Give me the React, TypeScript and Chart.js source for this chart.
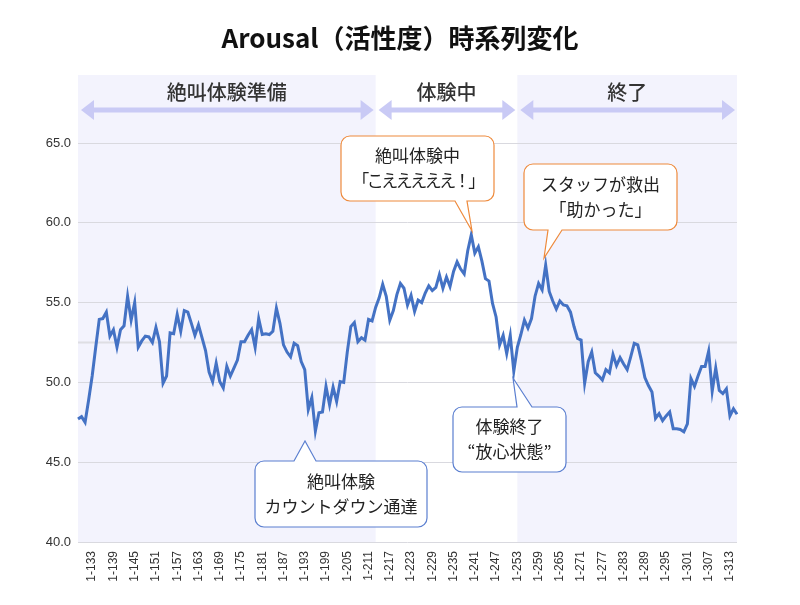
import React, { useEffect, useRef } from 'react';
import { Chart, registerables } from 'chart.js';

Chart.register(...registerables);

// ---- data ----
const firstTrial = 129;
const arousal = [
  47.7, 47.85, 47.5, 48.9, 50.4, 52.2, 53.95, 54.0, 54.4, 52.9,
  53.3, 52.2, 53.3, 53.55, 55.4, 53.9, 55.0, 52.2, 52.6, 52.9,
  52.85, 52.5, 53.45, 52.55, 49.95, 50.4, 53.1, 53.05, 54.25, 53.2,
  54.5, 54.4, 53.7, 52.95, 53.6, 52.8, 52.0, 50.65, 50.05, 51.2,
  50.05, 49.65, 51.0, 50.4, 50.9, 51.4, 52.55, 52.55, 52.95, 53.3,
  52.2, 54.0, 53.0, 53.05, 53.0, 53.2, 54.65, 53.7, 52.35, 51.9,
  51.6, 52.45, 52.3, 51.3, 50.8, 48.3, 49.05, 46.95, 48.1, 48.15,
  49.75, 48.6, 49.7, 48.8, 50.05, 50.0, 51.9, 53.5, 53.75, 52.55,
  52.8, 52.65, 53.95, 53.85, 54.7, 55.3, 56.15, 55.4, 53.9, 54.5,
  55.5, 56.2, 55.9, 54.85, 55.45, 54.45, 55.15, 55.0, 55.6, 56.05,
  55.75, 55.95, 56.75, 55.9, 56.6, 56.0, 56.95, 57.55, 57.1, 56.8,
  58.25, 59.25, 58.1, 58.5, 57.6, 56.5, 56.35, 54.95, 54.1, 52.35,
  52.95, 51.8, 52.95, 50.7, 52.2, 53.0, 53.9, 53.4, 54.0, 55.4,
  56.2, 55.8, 57.35, 55.7, 55.1, 54.6, 55.1, 54.85, 54.8, 54.4,
  53.5, 52.75, 52.65, 49.95, 51.3, 51.9, 50.6, 50.4, 50.15, 50.8,
  50.6, 51.75, 51.05, 51.55, 51.15, 50.8, 51.6, 52.45, 52.35, 51.4,
  50.3, 49.8, 49.4, 47.75, 48.05, 47.6, 47.9, 48.15, 47.1, 47.1,
  47.05, 46.9, 47.4, 50.25, 49.75, 50.4, 51.0, 51.0, 51.95, 49.45,
  50.9, 49.5, 49.3, 49.6, 47.9, 48.35, 48.0,
];
const categories = arousal.map((_, i) => `1-${firstTrial + i}`);

const firstShownTick = 133;
const tickEvery = 6;
const yMin = 40;
const yMax = 65;
const yStep = 5;
const meanLine = 52.5;

const title = 'Arousal（活性度）時系列変化';

const phaseLabels = ['絶叫体験準備', '体験中', '終了'];
const phaseStarts = ['1-129', '1-213', '1-253'];
const phaseEnds = ['1-213', '1-253', '1-315'];
const phaseShaded = [true, false, true];

const calloutTexts = [
  ['絶叫体験中', '「こえええええ！」'],
  ['スタッフが救出', '「助かった」'],
  ['体験終了', '“放心状態”'],
  ['絶叫体験', 'カウントダウン通達'],
];

// ---- layout / styles for callouts (pixels) ----
const calloutLayout = [
  { x: 341, y: 136, w: 153, h: 65, side: 'bottom', b1: 455, b2: 467, tipX: 472, tipY: 231, color: '#EE8A3C', spacing: [0, -2.5] },
  { x: 524, y: 164, w: 153, h: 66, side: 'bottom', b1: 548, b2: 562, tipX: 544, tipY: 258, color: '#EE8A3C', spacing: [0, 0] },
  { x: 453, y: 407, w: 113, h: 65, side: 'top', b1: 517, b2: 532, tipX: 513, tipY: 378, color: '#5B7FD0', spacing: [0, 0] },
  { x: 255, y: 461, w: 172, h: 66, side: 'top', b1: 294, b2: 316, tipX: 305, tipY: 441, color: '#5B7FD0', spacing: [0, 0] },
];

const CJK = '"Noto Sans CJK JP", "Noto Sans", sans-serif';
const LATIN = '"Liberation Sans", Arial, sans-serif';

function calloutPath(ctx: CanvasRenderingContext2D, c: any, r: number) {
  const { x, y, w, h, side, b1, b2, tipX, tipY } = c;
  ctx.beginPath();
  ctx.moveTo(x + r, y);
  if (side === 'top') {
    ctx.lineTo(b1, y);
    ctx.lineTo(tipX, tipY);
    ctx.lineTo(b2, y);
  }
  ctx.lineTo(x + w - r, y);
  ctx.arcTo(x + w, y, x + w, y + r, r);
  ctx.lineTo(x + w, y + h - r);
  ctx.arcTo(x + w, y + h, x + w - r, y + h, r);
  if (side === 'bottom') {
    ctx.lineTo(b2, y + h);
    ctx.lineTo(tipX, tipY);
    ctx.lineTo(b1, y + h);
  }
  ctx.lineTo(x + r, y + h);
  ctx.arcTo(x, y + h, x, y + h - r, r);
  ctx.lineTo(x, y + r);
  ctx.arcTo(x, y, x + r, y, r);
  ctx.closePath();
}

function drawDoubleArrow(ctx: CanvasRenderingContext2D, x1: number, x2: number, y: number) {
  const headLen = 13;
  const headHalf = 10;
  const shaft = 5;
  ctx.fillStyle = '#C9CAF5';
  ctx.fillRect(x1 + headLen - 1, y - shaft / 2, x2 - x1 - 2 * headLen + 2, shaft);
  ctx.beginPath();
  ctx.moveTo(x1, y);
  ctx.lineTo(x1 + headLen, y - headHalf);
  ctx.lineTo(x1 + headLen, y + headHalf);
  ctx.closePath();
  ctx.fill();
  ctx.beginPath();
  ctx.moveTo(x2, y);
  ctx.lineTo(x2 - headLen, y - headHalf);
  ctx.lineTo(x2 - headLen, y + headHalf);
  ctx.closePath();
  ctx.fill();
}

const decorPlugin = {
  id: 'decor',
  beforeDraw(chart: any) {
    const { ctx, chartArea, scales } = chart;
    const xs = scales.x;
    const bandTop = 75;
    ctx.save();
    for (let i = 0; i < phaseLabels.length; i++) {
      const l = xs.getPixelForValue(categories.indexOf(phaseStarts[i]));
      const r = xs.getPixelForValue(categories.indexOf(phaseEnds[i]));
      if (phaseShaded[i]) {
        ctx.fillStyle = '#F3F3FD';
        ctx.fillRect(l, bandTop, r - l, chartArea.bottom - bandTop);
      }
    }
    ctx.restore();
  },
  beforeDatasetsDraw(chart: any) {
    const { ctx, chartArea, scales } = chart;
    const y = scales.y.getPixelForValue(meanLine);
    ctx.save();
    ctx.strokeStyle = '#DEDEE3';
    ctx.lineWidth = 2;
    ctx.beginPath();
    ctx.moveTo(chartArea.left, y);
    ctx.lineTo(chartArea.right, y);
    ctx.stroke();
    ctx.restore();
  },
  afterDraw(chart: any) {
    const { ctx, scales } = chart;
    const xs = scales.x;
    ctx.save();
    // title
    ctx.fillStyle = '#111';
    ctx.font = `bold 26px ${CJK}`;
    ctx.textAlign = 'center';
    ctx.textBaseline = 'middle';
    ctx.fillText(title, 400, 38);

    // phase labels and arrows
    for (let i = 0; i < phaseLabels.length; i++) {
      const l = xs.getPixelForValue(categories.indexOf(phaseStarts[i]));
      const r = xs.getPixelForValue(categories.indexOf(phaseEnds[i]));
      ctx.fillStyle = '#333';
      ctx.font = `500 20px ${CJK}`;
      ctx.textAlign = 'center';
      ctx.textBaseline = 'middle';
      ctx.fillText(phaseLabels[i], (l + r) / 2, 92);
      drawDoubleArrow(ctx, l + 3, r - 2, 110);
    }

    // callouts
    for (let i = 0; i < calloutLayout.length; i++) {
      const c = calloutLayout[i];
      calloutPath(ctx, c, 9);
      ctx.fillStyle = '#FFFFFF';
      ctx.fill();
      ctx.strokeStyle = c.color;
      ctx.lineWidth = 1.2;
      ctx.stroke();
      ctx.fillStyle = '#222';
      ctx.font = `17px ${CJK}`;
      ctx.textAlign = 'center';
      ctx.textBaseline = 'middle';
      const cx = c.x + c.w / 2;
      const lines = calloutTexts[i];
      const lh = 25;
      const y0 = c.y + c.h / 2 - (lh * (lines.length - 1)) / 2;
      lines.forEach((t, k) => {
        (ctx as any).letterSpacing = `${c.spacing[k]}px`;
        ctx.fillText(t, cx, y0 + k * lh);
      });
      (ctx as any).letterSpacing = '0px';
    }
    ctx.restore();
  },
};

export default function App() {
  const ref = useRef<HTMLCanvasElement | null>(null);
  useEffect(() => {
    if (!ref.current) return;
    const chart = new Chart(ref.current, {
      type: 'line',
      data: {
        labels: categories,
        datasets: [
          {
            data: arousal,
            borderColor: '#4472C4',
            borderWidth: 3,
            pointRadius: 0,
            tension: 0,
            fill: false,
          },
        ],
      },
      options: {
        responsive: false,
        animation: false,
        layout: { padding: { left: 0, right: 63, top: 143, bottom: 0 } },
        plugins: {
          legend: { display: false },
          tooltip: { enabled: false },
          title: { display: false },
        },
        scales: {
          x: {
            grid: { display: false, drawTicks: false },
            border: { display: false },
            ticks: {
              autoSkip: false,
              minRotation: 90,
              maxRotation: 90,
              padding: 9,
              color: '#333',
              font: { family: LATIN, size: 12 },
              callback: (_v: any, i: number) => {
                const n = firstTrial + i;
                return (n - firstShownTick) % tickEvery === 0 && n >= firstShownTick ? categories[i] : '';
              },
            },
            afterFit: (s: any) => {
              s.height = 63;
            },
          },
          y: {
            min: yMin,
            max: yMax,
            grid: { color: '#D9D9DF', drawTicks: false },
            border: { display: false },
            ticks: {
              stepSize: yStep,
              padding: 7,
              color: '#333',
              font: { family: LATIN, size: 13 },
              callback: (v: any) => Number(v).toFixed(1),
            },
            afterFit: (s: any) => {
              s.width = 78;
            },
          },
        },
      },
      plugins: [decorPlugin],
    });
    return () => chart.destroy();
  }, []);
  return (
    <div style={{ position: 'fixed', left: 0, top: 0, width: 800, height: 605, background: '#fff' }}>
      <canvas ref={ref} width={800} height={605} style={{ display: 'block' }} />
    </div>
  );
}
